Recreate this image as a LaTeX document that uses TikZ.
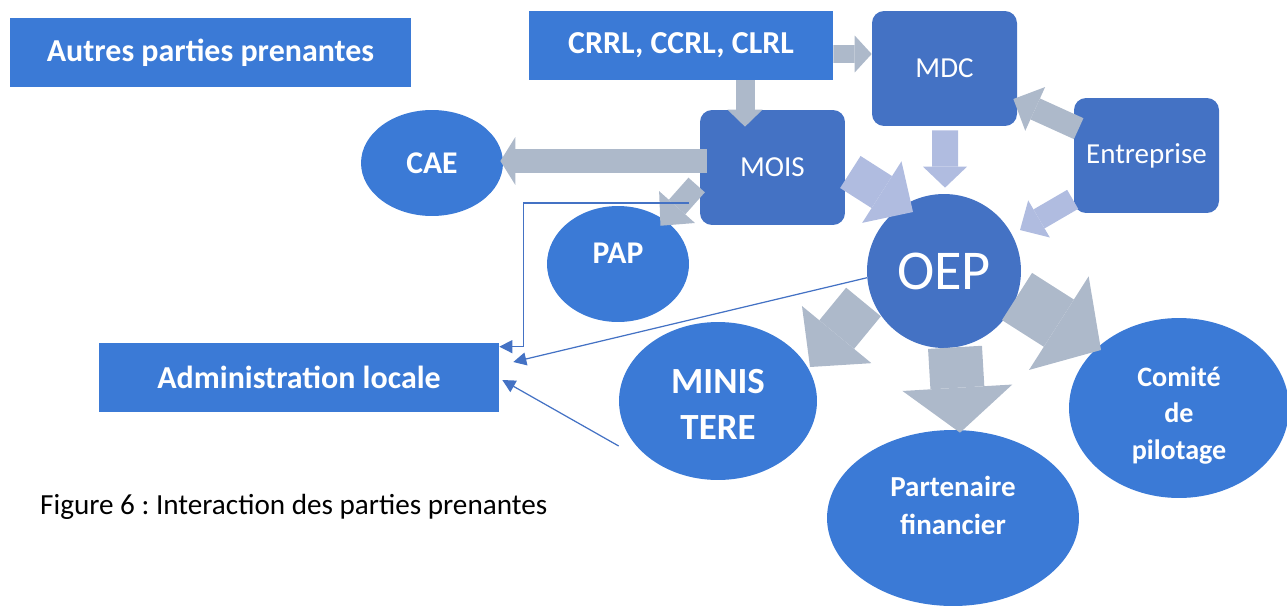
\documentclass[tikz,border=0pt]{standalone}
\usepackage{fontspec}
\setmainfont{Carlito}
\usepackage{tikz}
\usetikzlibrary{arrows.meta,shapes.geometric,calc}
\definecolor{bleu}{HTML}{3B7AD6}
\definecolor{bleufonce}{HTML}{4472C4}
\definecolor{gris}{HTML}{ADB9CA}
\definecolor{lavande}{HTML}{B0BCE0}
\newcommand{\taille}[2]{\fontsize{#1}{#2}\selectfont}
\frenchspacing

\begin{document}
\begin{tikzpicture}[
  x=0.02cm, y=-0.02cm,
  blk/.style={fill=bleu, text=white, font=\taille{18.2}{22}\bfseries,
              minimum height=1.38cm, inner sep=0pt},
  rnd/.style={fill=bleufonce, rounded corners=0.24cm, text=white, font=\taille{16.5}{20},
              minimum width=2.9cm, minimum height=2.3cm, inner sep=0pt},
  ovl/.style={ellipse, fill=bleu, text=white, font=\taille{18}{22}\bfseries,
              align=center, inner sep=0pt},
  big/.style n args={4}{draw=#1, line width=#2,
              -{Triangle[width=#3, length=#4, line width=0pt]}},
  fin/.style={draw=bleufonce, line width=0.7pt, -{Triangle[length=0.26cm, width=0.26cm]}},
  figcap/.style={anchor=west, font=\taille{16.6}{20}},
]
\useasboundingbox (0,0) rectangle (1287,605);
% ---------- boxes ----------
\node[blk, minimum width=8.02cm] (autres) at (210.5,52.5) {Autres parties prenantes};
\node[blk, minimum width=6.08cm] (crrl) at (681,45.5) {CRRL, CCRL, CLRL};
\node[blk, minimum width=8.0cm] (admin) at (299,377.5) {Administration locale};
\node[rnd] (mdc) at (944.5,68.5) {MDC};
\node[rnd] (mois) at (772.5,167.5) {MOIS};
\node[rnd] (entr) at (1146.5,155.5) {Entreprise};
% ---------- ellipses ----------
\node[ovl, minimum width=2.84cm, minimum height=2.12cm] (cae) at (432,163) {CAE};
\node[ovl, minimum width=2.84cm, minimum height=2.32cm, text depth=0.44cm] (pap) at (618,264) {PAP};
\node[circle, fill=bleufonce, text=white, font=\taille{32}{38}, minimum size=3.08cm,
      inner sep=0pt] (oep) at (944,271) {OEP};
\node[ovl, minimum width=3.96cm, minimum height=3.16cm, font=\taille{21}{26.6}\bfseries,
      text height=1.55cm] (minis) at (718,401) {MINIS\\TERE};
\node[ovl, minimum width=4.4cm, minimum height=3.6cm, font=\taille{16}{21}\bfseries,
      text height=2.17cm] (comite) at (1179,408) {Comité\\de\\pilotage};
\node[ovl, minimum width=5.04cm, minimum height=3.52cm, font=\taille{16.5}{21.5}\bfseries,
      text depth=0.52cm] (part) at (953,518) {Partenaire\\financier};
\node[figcap] (legende) at (34,507) {Figure 6 : Interaction des parties prenantes};
% ---------- block arrows ----------
\draw[big={gris}{0.36cm}{0.74cm}{0.34cm}] ($(crrl.east)+(0,8.5)$) -- ($(mdc.west)+(0,-14.5)$);
\draw[big={gris}{0.38cm}{0.70cm}{0.34cm}] ($(crrl.south)+(64,0)$) -- ($(mois.north)+(-27.5,17)$);
\draw[big={gris}{0.48cm}{0.96cm}{0.30cm}] ($(mois.west)+(7,-6.5)$) -- ($(cae.east)+(-3,-2)$);
\draw[big={gris}{0.44cm}{0.96cm}{0.50cm}] ($(mois.west)+(-3,17.5)$) -- ($(pap.north east)+(-8,3)$);
\draw[big={lavande}{0.76cm}{1.46cm}{0.74cm}] ($(mois.east)+(5,4.5)$) -- ($(oep)+(-31,-59)$);
\draw[big={lavande}{0.52cm}{0.88cm}{0.42cm}] ($(mdc.south)+(0.5,4)$) -- ($(oep.north)+(1,-6)$);
\draw[big={lavande}{0.44cm}{0.86cm}{0.44cm}] ($(entr.south west)+(-1,-14)$) -- ($(oep)+(76,-41)$);
\draw[big={gris}{0.46cm}{0.96cm}{0.48cm}] ($(entr.north west)+(5,31)$) -- ($(mdc.east)+(-4,30.5)$);
\draw[big={gris}{0.90cm}{1.80cm}{0.84cm}] ($(oep)+(-80.5,31)$) -- ($(minis)+(92,-34)$);
\draw[big={gris}{1.08cm}{2.20cm}{0.90cm}] ($(oep.south)+(11,-1)$) -- ($(part.north)+(7,3)$);
\draw[big={gris}{1.12cm}{2.22cm}{1.00cm}] ($(oep)+(73,25.5)$) -- ($(comite)+(-78,-58)$);
% ---------- thin arrows to Administration locale ----------
\draw[fin] ($(mois.west)+(-11,35.5)$) -| ($(admin.north east)+(24,4)$) -- ($(admin.north east)+(0,4)$);
\draw[fin] (oep.185) -- ($(admin.east)+(14,-15.5)$);
\draw[fin] ($(minis.west)+(0,45)$) -- ($(admin.east)+(3,2.5)$);
\end{tikzpicture}
\end{document}
